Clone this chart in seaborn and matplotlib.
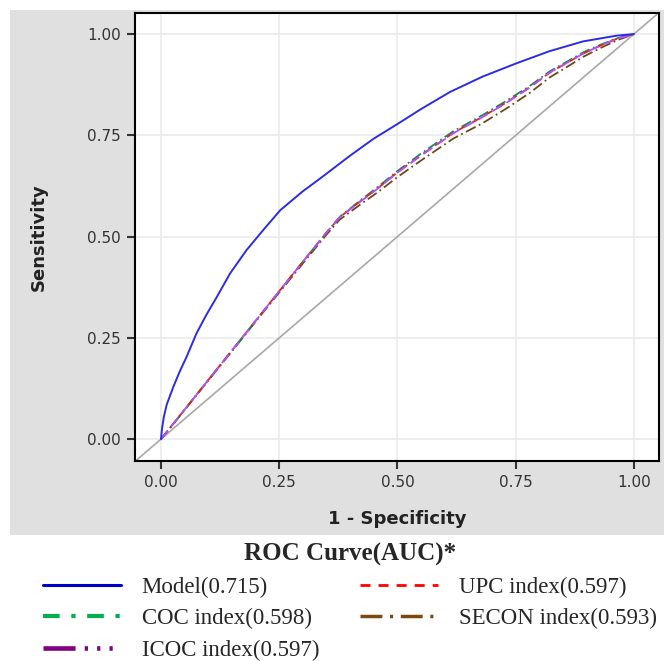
import matplotlib
matplotlib.use("Agg")
import matplotlib.pyplot as plt
from matplotlib.lines import Line2D
from matplotlib.patches import Rectangle
from matplotlib.ticker import FormatStrFormatter
import seaborn as sns
import pandas as pd

# ROC curve points
model_fpr = [0.0, 0.002, 0.006, 0.012, 0.026, 0.040, 0.054, 0.075, 0.095, 0.118, 0.146, 0.181,
             0.216, 0.252, 0.300, 0.336, 0.400, 0.450, 0.500, 0.550, 0.611, 0.680, 0.752,
             0.822, 0.893, 0.963, 1.0]
model_tpr = [0.0, 0.025, 0.055, 0.085, 0.129, 0.168, 0.203, 0.261, 0.305, 0.351, 0.409, 0.467,
             0.516, 0.565, 0.612, 0.643, 0.700, 0.742, 0.778, 0.815, 0.857, 0.895, 0.928,
             0.958, 0.982, 0.996, 1.0]

index_fpr = [0.0, 0.05, 0.10, 0.15, 0.20, 0.252, 0.30, 0.35, 0.378, 0.42, 0.46, 0.50, 0.55,
             0.618, 0.68, 0.73, 0.78, 0.822, 0.86, 0.893, 0.93, 0.963, 1.0]
coc_tpr = [0.0, 0.073, 0.146, 0.219, 0.292, 0.368, 0.438, 0.510, 0.549, 0.588, 0.624, 0.662,
           0.705, 0.760, 0.800, 0.835, 0.872, 0.908, 0.933, 0.955, 0.974, 0.989, 1.0]
upc_tpr = [0.0, 0.073, 0.146, 0.219, 0.292, 0.368, 0.438, 0.510, 0.548, 0.586, 0.621, 0.659,
           0.701, 0.756, 0.796, 0.831, 0.869, 0.905, 0.930, 0.952, 0.972, 0.988, 1.0]
icoc_tpr = [0.0, 0.073, 0.146, 0.219, 0.292, 0.368, 0.438, 0.510, 0.548, 0.585, 0.620, 0.658,
            0.700, 0.755, 0.795, 0.830, 0.868, 0.905, 0.930, 0.952, 0.972, 0.988, 1.0]
secon_tpr = [0.0, 0.072, 0.145, 0.217, 0.290, 0.365, 0.434, 0.505, 0.542, 0.578, 0.611, 0.647,
             0.688, 0.742, 0.780, 0.816, 0.855, 0.893, 0.920, 0.944, 0.966, 0.984, 1.0]

ticks = [0.0, 0.25, 0.50, 0.75, 1.0]
legend_labels = ["Model(0.715)", "COC index(0.598)", "ICOC index(0.597)",
                 "UPC index(0.597)", "SECON index(0.593)"]

sns.set_style("white")
plt.rcParams['font.family'] = ['DejaVu Sans']

fig = plt.figure(figsize=(6.64, 6.61), dpi=100)
W, H = 664, 661

# gray graph background (SAS style)
fig.patches.append(Rectangle((10 / W, 1 - 535 / H), 1, (535 - 10) / H, transform=fig.transFigure,
                             facecolor='#e0e0e0', edgecolor='none', zorder=-1))

ax = fig.add_axes([135 / W, 1 - 461 / H, 524 / W, 448 / H])
ax.set_facecolor('white')

# reference diagonal
ax.axline((0, 0), (1, 1), color='#a8a8a8', lw=1.2, zorder=1)

model_df = pd.DataFrame({'fpr': model_fpr, 'tpr': model_tpr})
sns.lineplot(data=model_df, x='fpr', y='tpr', sort=False, estimator=None, color='#2b2bea',
             lw=1.4, ax=ax, zorder=5)

idx_styles = [
    (secon_tpr, '#6b4a1a', (0, (6, 2, 1, 2))),
    (coc_tpr, '#1a8a5a', (0, (6, 2, 1, 2))),
    (upc_tpr, '#e02020', (0, (5, 3))),
    (icoc_tpr, '#b050ff', (0, (6, 3))),
]
for tpr, col, ls in idx_styles:
    d = pd.DataFrame({'fpr': index_fpr, 'tpr': tpr})
    sns.lineplot(data=d, x='fpr', y='tpr', sort=False, estimator=None, color=col,
                 lw=1.3, linestyle=ls, ax=ax, zorder=4)

ax.set_xlim(-0.055, 1.053)
ax.set_ylim(-0.054, 1.052)
ax.set_xticks(ticks)
ax.set_yticks(ticks)
ax.xaxis.set_major_formatter(FormatStrFormatter('%.2f'))
ax.yaxis.set_major_formatter(FormatStrFormatter('%.2f'))
ax.grid(True, color='#ebebeb', lw=1.2)
ax.set_axisbelow(True)
ax.tick_params(axis='both', length=6, width=1.5, color='#333333', labelcolor='#333333',
               labelsize=11, pad=4, left=True, bottom=True)
for sp in ax.spines.values():
    sp.set_color('black')
    sp.set_linewidth(1.5)

ax.set_xlabel('1 - Specificity', fontsize=13, fontweight='bold', color='#222222')
ax.set_ylabel('Sensitivity', fontsize=13, fontweight='bold', color='#222222')
ax.xaxis.set_label_coords(0.5, -0.11)
ax.yaxis.set_label_coords(-0.166, 0.5)

# legend below the graph
handles = [
    Line2D([], [], color='#0000cc', lw=2.2, linestyle='-'),
    Line2D([], [], color='#00b050', lw=3.0, linestyle=(0, (4, 2.8, 1, 2.8))),
    Line2D([], [], color='#800080', lw=3.3, linestyle=(0, (7, 2, 0.7, 2, 0.7, 2, 0.7, 2))),
    Line2D([], [], color='#ff0000', lw=2.0, linestyle=(0, (3.6, 2.9))),
    Line2D([], [], color='#7a4a10', lw=2.5, linestyle=(0, (6.3, 2.2, 0.9, 2.2))),
]
fig.legend(handles, legend_labels, loc='upper left', bbox_to_anchor=(43 / W, 1 - 543 / H),
           ncol=2, title='ROC Curve(AUC)*', frameon=False,
           prop={'family': 'Liberation Serif', 'size': 16.5},
           title_fontproperties={'family': 'Liberation Serif', 'weight': 'bold', 'size': 18},
           handlelength=3.4, handletextpad=0.9, columnspacing=1.8, labelspacing=0.45,
           borderpad=0, borderaxespad=0)

fig.savefig('out.png', dpi=100)
